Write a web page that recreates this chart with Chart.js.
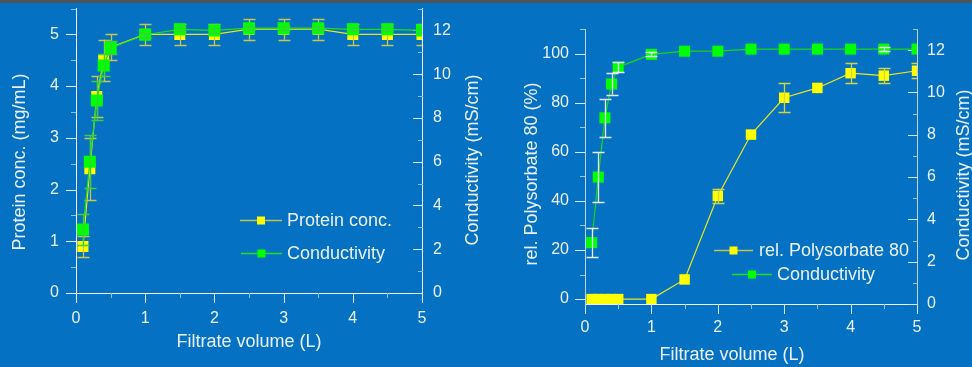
<!DOCTYPE html>
<html>
<head>
<meta charset="utf-8">
<script src="https://cdn.jsdelivr.net/npm/chart.js@4.4.0/dist/chart.umd.min.js"></script>
<style>
  body { margin: 0; background: #0571c2; }
  #wrap { position: relative; width: 972px; height: 367px; overflow: hidden; background: #0571c2; }
  #topline { position: absolute; left: 0; top: 0; width: 972px; height: 3px; background: #4e5358; z-index: 2; }
  canvas { position: absolute; top: 0; }
</style>
</head>
<body>
<div id="wrap">
  <div id="topline"></div>
  <canvas id="left" width="490" height="367" style="left:0"></canvas>
  <canvas id="right" width="482" height="367" style="left:490px"></canvas>
</div>
<script>
// filtrate volume (L), shared by both panels
const volume = [0.1, 0.2, 0.3, 0.4, 0.5, 1, 1.5, 2, 2.5, 3, 3.5, 4, 4.5, 5];

// left panel
const protein    = [0.9, 2.4, 3.8, 4.5, 4.75, 5.0, 5.0, 5.0, 5.1, 5.1, 5.1, 5.0, 5.0, 5.0];
const proteinErr = [0.2, 0.6, 0.4, 0.4, 0.25, 0.2, 0.2, 0.2, 0.2, 0.2, 0.2, 0.2, 0.2, 0.2];
const condLeft    = [2.9, 6.0, 8.8, 10.4, 11.2, 11.8, 12.05, 12.0, 12.1, 12.1, 12.1, 12.05, 12.05, 12.0];
const condLeftErr = [0.7, 1.2, 0.9, 0.5, 0.3, 0.1, 0.1, 0.1, 0.1, 0.1, 0.1, 0.1, 0.1, 0.1];

// right panel
const polysorbate    = [0, 0, 0, 0, 0, 0, 8, 42, 67, 82, 86, 92, 91, 93];
const polysorbateErr = [0, 0, 0, 0, 0, 0, 0, 3, 0, 6, 0, 4, 3, 3];
const condRight    = [2.9, 6.0, 8.8, 10.4, 11.2, 11.8, 11.95, 11.95, 12.05, 12.05, 12.05, 12.05, 12.05, 12.05];
const condRightErr = [0.7, 1.2, 0.9, 0.5, 0.25, 0.1, 0, 0, 0, 0, 0, 0, 0.1, 0];

// tick values
const xMajor = [0, 1, 2, 3, 4, 5];
const xMinor = [0.5, 1.5, 2.5, 3.5, 4.5];
const proteinMajor = [0, 1, 2, 3, 4, 5];
const proteinMinor = [0.5, 1.5, 2.5, 3.5, 4.5, 5.5];
const condMajor = [0, 2, 4, 6, 8, 10, 12];
const condMinor = [1, 3, 5, 7, 9, 11, 13];
const polyMajor = [0, 20, 40, 60, 80, 100];
const polyMinor = [10, 30, 50, 70, 90, 110];

const FONT = "'Liberation Sans', Arial, sans-serif";
const TEXT = '#eaf1f9';

function pts(ys) {
  return volume.map((v, i) => ({ x: v, y: ys[i] }));
}

// error bars, drawn right after their own dataset
const errorBars = {
  id: 'errorBars',
  afterDatasetDraw(chart, args) {
    const ds = chart.data.datasets[args.index];
    if (!ds.errors) return;
    const ctx = chart.ctx;
    const ys = chart.scales[args.meta.yAxisID];
    const a = chart.chartArea;
    ctx.save();
    ctx.beginPath();
    ctx.rect(a.left, a.top - 2, a.right - a.left, a.bottom - a.top + 4);
    ctx.clip();
    ctx.strokeStyle = ds.errorColor;
    ctx.lineWidth = 1.3;
    args.meta.data.forEach((pt, i) => {
      const e = ds.errors[i];
      if (!e) return;
      const v = ds.data[i].y;
      const top = ys.getPixelForValue(v + e);
      const bot = ys.getPixelForValue(v - e);
      const x = Math.round(pt.x) + 0.5;
      ctx.beginPath();
      ctx.moveTo(x, top); ctx.lineTo(x, bot);
      ctx.moveTo(x - 6, Math.round(top) + 0.5); ctx.lineTo(x + 6, Math.round(top) + 0.5);
      ctx.moveTo(x - 6, Math.round(bot) + 0.5); ctx.lineTo(x + 6, Math.round(bot) + 0.5);
      ctx.stroke();
    });
    ctx.restore();
  }
};

// minor/major tick marks, axis titles and the in-plot legend
const decor = {
  id: 'decor',
  beforeDatasetsDraw(chart, args, opts) {
    const ctx = chart.ctx;
    ctx.save();
    ctx.lineWidth = 1;
    opts.marks.forEach(m => {
      const s = chart.scales[m.axis];
      const draw = (vals, len, color) => {
        ctx.strokeStyle = color;
        vals.forEach(v => {
          const p = Math.round(s.getPixelForValue(v)) + 0.5;
          ctx.beginPath();
          if (s.isHorizontal()) {
            ctx.moveTo(p, s.top); ctx.lineTo(p, s.top + len);
          } else {
            const x0 = s.position === 'left' ? s.right : s.left + 1;
            ctx.moveTo(x0, p); ctx.lineTo(x0 - len, p);
          }
          ctx.stroke();
        });
      };
      draw(m.minor, 5, opts.minorColor);
      draw(m.major, 10, opts.majorColor);
    });
    ctx.restore();
  },
  afterDraw(chart, args, opts) {
    const ctx = chart.ctx;
    ctx.save();
    ctx.fillStyle = TEXT;
    ctx.font = '18px ' + FONT;
    ctx.textAlign = 'center';
    ctx.textBaseline = 'middle';
    opts.titles.forEach(t => {
      ctx.save();
      ctx.translate(t.x, t.y);
      if (t.rot) ctx.rotate(-Math.PI / 2);
      ctx.fillText(t.text, 0, 0);
      ctx.restore();
    });
    ctx.textAlign = 'left';
    opts.legend.forEach(l => {
      const ds = chart.data.datasets[l.index];
      ctx.strokeStyle = l.lineColor;
      ctx.lineWidth = 1.3;
      ctx.beginPath();
      ctx.moveTo(l.x1, l.y + 0.5); ctx.lineTo(l.x2, l.y + 0.5);
      ctx.stroke();
      const cx = (l.x1 + l.x2) / 2;
      ctx.fillStyle = ds.pointBackgroundColor;
      ctx.fillRect(cx - 4, l.y - 3.5, 8, 8);
      ctx.fillStyle = TEXT;
      ctx.fillText(ds.label, l.tx, l.y + 1);
    });
    ctx.restore();
  }
};

function fixedAxis(size, horizontal) {
  return s => {
    if (horizontal) s.height = size; else s.width = size;
    s.paddingTop = 0; s.paddingBottom = 0; s.paddingLeft = 0; s.paddingRight = 0;
  };
}

function axis(opts) {
  return {
    type: 'linear',
    position: opts.position,
    min: opts.min,
    max: opts.max,
    grid: { display: false, drawTicks: false },
    border: { display: true, color: opts.border, width: 1 },
    ticks: {
      color: TEXT,
      padding: opts.padding,
      font: { family: FONT, size: 16 }
    },
    afterBuildTicks: s => { s.ticks = opts.majors.map(v => ({ value: v })); },
    afterFit: fixedAxis(opts.size, opts.position === 'bottom')
  };
}

// left panel
new Chart(document.getElementById('left'), {
  type: 'line',
  data: {
    datasets: [
      {
        label: 'Protein conc.',
        data: pts(protein),
        errors: proteinErr,
        errorColor: '#c4c84c',
        yAxisID: 'y',
        order: 1,
        borderColor: '#e6e61e',
        borderWidth: 1.2,
        pointStyle: 'rect',
        pointRadius: 7.8,
        pointBorderWidth: 0,
        pointBackgroundColor: '#ffff00'
      },
      {
        label: 'Conductivity',
        data: pts(condLeft),
        errors: condLeftErr,
        errorColor: '#3ccf3c',
        yAxisID: 'y2',
        order: 0,
        borderColor: '#18e018',
        borderWidth: 1.2,
        pointStyle: 'rect',
        pointRadius: 8.5,
        pointBorderWidth: 0,
        pointBackgroundColor: '#00ff00'
      }
    ]
  },
  options: {
    responsive: false,
    animation: false,
    events: [],
    layout: { padding: { top: 7, left: 0, right: 0, bottom: 0 } },
    scales: {
      x: axis({ position: 'bottom', min: 0, max: 5, majors: xMajor, size: 74, padding: 16, border: '#f4f8fc' }),
      y: axis({ position: 'left', min: 0, max: 5.5, majors: proteinMajor, size: 76, padding: 17, border: '#f4f8fc' }),
      y2: axis({ position: 'right', min: 0, max: 13, majors: condMajor, size: 68, padding: 11, border: '#f4f8fc' })
    },
    plugins: {
      legend: { display: false },
      tooltip: { enabled: false },
      decor: {
        majorColor: '#e4eef9',
        minorColor: '#8fbde9',
        marks: [
          { axis: 'x', major: xMajor, minor: xMinor },
          { axis: 'y', major: proteinMajor, minor: proteinMinor },
          { axis: 'y2', major: condMajor, minor: condMinor }
        ],
        titles: [
          { text: 'Protein conc. (mg/mL)', x: 20, y: 162, rot: true },
          { text: 'Conductivity (mS/cm)', x: 473, y: 160, rot: true },
          { text: 'Filtrate volume (L)', x: 249, y: 342 }
        ],
        legend: [
          { index: 0, x1: 240, x2: 282, y: 220, tx: 287, lineColor: '#bfc350' },
          { index: 1, x1: 241, x2: 282, y: 253, tx: 287, lineColor: '#22e022' }
        ]
      }
    }
  },
  plugins: [errorBars, decor]
});

// right panel
new Chart(document.getElementById('right'), {
  type: 'line',
  data: {
    datasets: [
      {
        label: 'rel. Polysorbate 80',
        data: pts(polysorbate),
        errors: polysorbateErr,
        errorColor: '#d2d442',
        yAxisID: 'y',
        order: 1,
        borderColor: '#e8e820',
        borderWidth: 1.2,
        pointStyle: 'rect',
        pointRadius: 7.4,
        pointBorderWidth: 0,
        pointBackgroundColor: '#ffff00'
      },
      {
        label: 'Conductivity',
        data: pts(condRight),
        errors: condRightErr,
        errorColor: '#e8eef6',
        yAxisID: 'y2',
        order: 0,
        borderColor: '#14d814',
        borderWidth: 1.2,
        pointStyle: 'rect',
        pointRadius: 7.8,
        pointBorderWidth: 0,
        pointBackgroundColor: '#00ff00'
      }
    ]
  },
  options: {
    responsive: false,
    animation: false,
    events: [],
    layout: { padding: { top: 29, left: 0, right: 0, bottom: 0 } },
    scales: {
      x: axis({ position: 'bottom', min: 0, max: 5, majors: xMajor, size: 63, padding: 14, border: '#eef4fb' }),
      y: axis({ position: 'left', min: -2, max: 110, majors: polyMajor, size: 95, padding: 16, border: '#b9d5f0' }),
      y2: axis({ position: 'right', min: 0, max: 13, majors: condMajor, size: 55, padding: 10, border: '#b9d5f0' })
    },
    plugins: {
      legend: { display: false },
      tooltip: { enabled: false },
      decor: {
        majorColor: '#d4e6f7',
        minorColor: '#9cc4ea',
        marks: [
          { axis: 'x', major: xMajor, minor: xMinor },
          { axis: 'y', major: polyMajor, minor: polyMinor },
          { axis: 'y2', major: condMajor, minor: condMinor }
        ],
        titles: [
          { text: 'rel. Polysorbate 80 (%)', x: 42, y: 174, rot: true },
          { text: 'Conductivity (mS/cm)', x: 474, y: 175, rot: true },
          { text: 'Filtrate volume (L)', x: 242, y: 355 }
        ],
        legend: [
          { index: 0, x1: 224, x2: 263, y: 250, tx: 269, lineColor: '#bfc350' },
          { index: 1, x1: 242, x2: 282, y: 274, tx: 287, lineColor: '#22e022' }
        ]
      }
    }
  },
  plugins: [errorBars, decor]
});
</script>
</body>
</html>
